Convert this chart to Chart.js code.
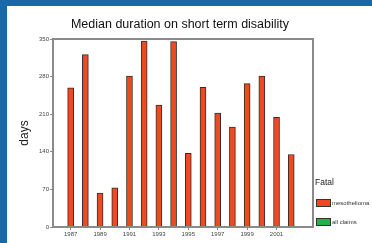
<!DOCTYPE html>
<html>
<head>
<meta charset="utf-8">
<script src="https://cdn.jsdelivr.net/npm/chart.js@4/dist/chart.umd.min.js"></script>
<style>
  html, body { margin: 0; padding: 0; background: #1769aa; }
  #wrap { position: absolute; left: 7px; top: 6px; width: 365px; height: 237px; background: #fff; }
</style>
</head>
<body>
<div id="wrap"><canvas id="myChart" width="365" height="237"></canvas></div>
<script>
// data
const years = [1987, 1988, 1989, 1990, 1991, 1992, 1993, 1994, 1995, 1996, 1997, 1998, 1999, 2000, 2001, 2002];
const mesothelioma = [259, 321, 63, 73, 281, 346, 227, 345, 137, 260, 212, 186, 267, 281, 204, 135];
const allClaims = [];
const yearTicks = [1987, 1989, 1991, 1993, 1995, 1997, 1999, 2001];
const dayTicks = [0, 70, 140, 210, 280, 350];
const titleText = 'Median duration on short term disability';

const font = 'Liberation Sans, Arial, sans-serif';

// title, frame round the plot area
const frame = {
    id: 'frame',
    afterDatasetsDraw(chart) {
        const a = chart.chartArea;
        const c = chart.ctx;
        c.save();
        c.strokeStyle = '#8a8a8a';
        c.lineWidth = 2;
        c.strokeRect(a.left, a.top, a.right - a.left, a.bottom - a.top);
        c.fillStyle = '#111';
        c.font = '12.5px ' + font;
        c.textAlign = 'center';
        c.textBaseline = 'middle';
        c.fillText(titleText, 173, 19);
        c.restore();
    }
};

// legend on the right, built from the datasets
const sideLegend = {
    id: 'sideLegend',
    afterDraw(chart) {
        const c = chart.ctx;
        const x = chart.chartArea.right + 1;
        c.save();
        c.fillStyle = '#222';
        c.font = '8.5px ' + font;
        c.textBaseline = 'middle';
        c.fillText('Fatal', x + 1, 177);
        chart.data.datasets.forEach((ds, i) => {
            const y = 193 + i * 19;
            c.fillStyle = ds.backgroundColor;
            c.fillRect(x + 2, y, 15, 8);
            c.strokeStyle = '#333';
            c.lineWidth = 1;
            c.strokeRect(x + 2.5, y + 0.5, 14, 7);
            c.fillStyle = '#333';
            c.font = '6px ' + font;
            c.fillText(ds.label, x + 18, y + 4.5);
        });
        c.restore();
    }
};

const ctx = document.getElementById('myChart').getContext('2d');
const myChart = new Chart(ctx, {
    type: 'bar',
    data: {
        datasets: [{
            label: 'mesothelioma',
            data: years.map((y, i) => ({ x: y, y: mesothelioma[i] })),
            backgroundColor: '#ee4a20',
            borderColor: '#3b2b28',
            borderWidth: 1,
            barThickness: 6,
            grouped: false
        }, {
            label: 'all claims',
            data: allClaims,
            backgroundColor: '#22b14c',
            borderColor: '#333',
            borderWidth: 1,
            barThickness: 6,
            grouped: false
        }]
    },
    options: {
        responsive: false,
        animation: false,
        layout: { padding: { left: 0, right: 59, top: 33, bottom: 0 } },
        plugins: {
            legend: { display: false },
            tooltip: { enabled: false },
            title: { display: false }
        },
        scales: {
            x: {
                type: 'linear',
                offset: false,
                min: 1985.8,
                max: 2003.48,
                afterBuildTicks: s => { s.ticks = yearTicks.map(v => ({ value: v })); },
                afterFit: s => { s.height = 16; },
                ticks: {
                    color: '#444',
                    font: { family: font, size: 6 },
                    padding: 1,
                    maxRotation: 0,
                    autoSkip: false,
                    callback: v => String(v)
                },
                grid: { drawOnChartArea: false, offset: false, tickLength: 3, color: '#888' },
                border: { display: false }
            },
            y: {
                min: 0,
                max: 350,
                afterBuildTicks: s => { s.ticks = dayTicks.map(v => ({ value: v })); },
                afterFit: s => { s.width = 46; },
                ticks: {
                    color: '#444',
                    font: { family: font, size: 6 },
                    padding: 1
                },
                grid: { drawOnChartArea: false, tickLength: 3, color: '#888' },
                border: { display: false },
                title: {
                    display: true,
                    text: 'days',
                    color: '#222',
                    font: { family: font, size: 12 },
                    padding: { top: 10, bottom: 0 }
                }
            }
        }
    },
    plugins: [frame, sideLegend]
});
</script>
</body>
</html>
